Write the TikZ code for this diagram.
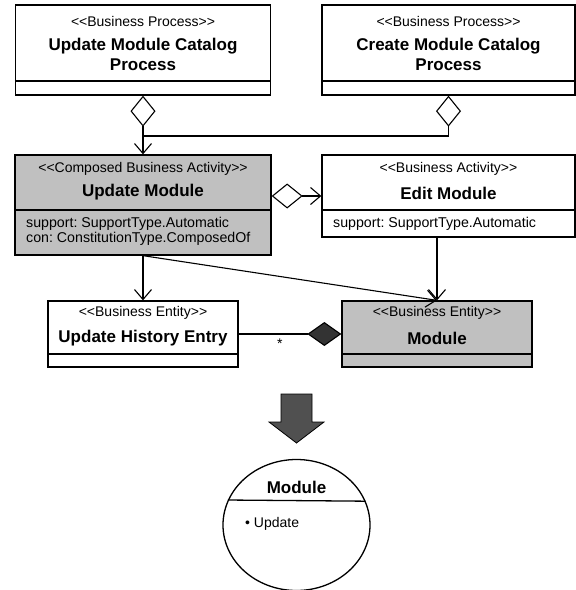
\documentclass[tikz,border=0pt]{standalone}
\usepackage{fontspec}
\newfontfamily\umlfont{Liberation Sans}
\usetikzlibrary{arrows.meta,shapes.geometric}
\definecolor{actgray}{HTML}{C0C0C0}
\definecolor{compgray}{HTML}{333333}
\definecolor{bigarrow}{HTML}{505050}
\frenchspacing
\tikzset{
  classbox/.style={draw, line width=1.3pt, inner sep=0pt},
  divider/.style={line width=1.3pt},
  stereo/.style={font=\umlfont\fontsize{14}{16}\selectfont, inner sep=0pt},
  clstitle/.style={font=\umlfont\bfseries\fontsize{17}{20}\selectfont, align=center, inner sep=0pt},
  attr/.style={font=\umlfont\fontsize{14.2}{14.5}\selectfont, align=left, anchor=west, inner sep=0pt},
  conn/.style={line width=1.1pt},
  opendia/.style={conn, {Diamond[open,length=31pt,width=25pt]}-},
  agg/.style={conn, {Diamond[open,length=31pt,width=25pt]}-{Straight Barb[length=10pt,width=17pt]}},
  assoc/.style={conn, -{Straight Barb[length=10pt,width=17pt]}},
  comp/.style={conn, -{Diamond[fill=compgray,length=34pt,width=24pt]}}
}
\begin{document}
\begin{tikzpicture}[x=1pt,y=-1pt]
\useasboundingbox (0,0) rectangle (576,590);

\node[classbox, minimum width=255pt, minimum height=90pt] (upcat) at (143,50) {};
\node[classbox, minimum width=253pt, minimum height=90pt] (crcat) at (448.5,50) {};
\node[classbox, fill=actgray, minimum width=256pt, minimum height=100pt] (updmod) at (143,205) {};
\node[classbox, minimum width=253pt, minimum height=82pt] (editmod) at (448.5,196) {};
\node[classbox, minimum width=190pt, minimum height=66pt] (hist) at (143,334) {};
\node[classbox, fill=actgray, minimum width=190pt, minimum height=66pt] (mod) at (437,334) {};

\draw[divider] (upcat.west |- 0,81) -- (upcat.east |- 0,81);
\draw[divider] (crcat.west |- 0,81) -- (crcat.east |- 0,81);
\draw[divider] (updmod.west |- 0,210) -- (updmod.east |- 0,210);
\draw[divider] (editmod.west |- 0,210) -- (editmod.east |- 0,210);
\draw[divider] (hist.west |- 0,354) -- (hist.east |- 0,354);
\draw[divider] (mod.west |- 0,354) -- (mod.east |- 0,354);

\node[stereo] (upcat-s) at (143,21) {<<Business Process>>};
\node[clstitle] (upcat-t) at (143,54) {Update Module Catalog\\Process};
\node[stereo] (crcat-s) at (448.5,21) {<<Business Process>>};
\node[clstitle] (crcat-t) at (448.5,54) {Create Module Catalog\\Process};
\node[stereo] (updmod-s) at (143,169) {<<Composed Business Activity>>};
\node[clstitle] (updmod-t) at (143,192) {Update Module};
\node[attr] (updmod-a) at (26,231.5) {support: SupportType.Automatic\\con: ConstitutionType.ComposedOf};
\node[stereo] (editmod-s) at (448.5,169) {<<Business Activity>>};
\node[clstitle] (editmod-t) at (448.5,193) {Edit Module};
\node[attr] (editmod-a) at (333,224) {support: SupportType.Automatic};
\node[stereo] (hist-s) at (143,313) {<<Business Entity>>};
\node[clstitle] (hist-t) at (143,338) {Update History Entry};
\node[stereo] (mod-s) at (437,313) {<<Business Entity>>};
\node[clstitle] (mod-t) at (437,338) {Module};

\coordinate (merge) at (143,136);
\draw[agg] (upcat.south) -- (updmod.north);
\draw[opendia] (crcat.south) |- (merge);
\draw[agg] (updmod.east |- editmod.west) -- (editmod.west);
\draw[assoc] (updmod.south) -- (hist.north);
\draw[assoc] (updmod.south) -- (mod.north);
\draw[assoc] (editmod.south -| mod.north) -- (mod.north);
\draw[comp] (hist.east) -- node[pos=0.4, below=4pt, stereo] (mult) {*} (mod.west);

\draw[fill=bigarrow, line width=0.8pt] (281,394) -- (312,394) -- (312,422) -- (324,422)
  -- (296.5,443) -- (269,422) -- (281,422) -- cycle;

\node[ellipse, draw, line width=1.3pt, minimum width=147pt, minimum height=131pt, inner sep=0pt] (modst) at (296.5,525) {};
\draw[divider] (modst.19.3) -- (modst.160.7);
\node[clstitle] (modst-t) at (296.5,487) {Module};
\node[attr, font=\umlfont\fontsize{14}{16}\selectfont] (modst-a) at (245,524) {• Update};
\end{tikzpicture}
\end{document}
